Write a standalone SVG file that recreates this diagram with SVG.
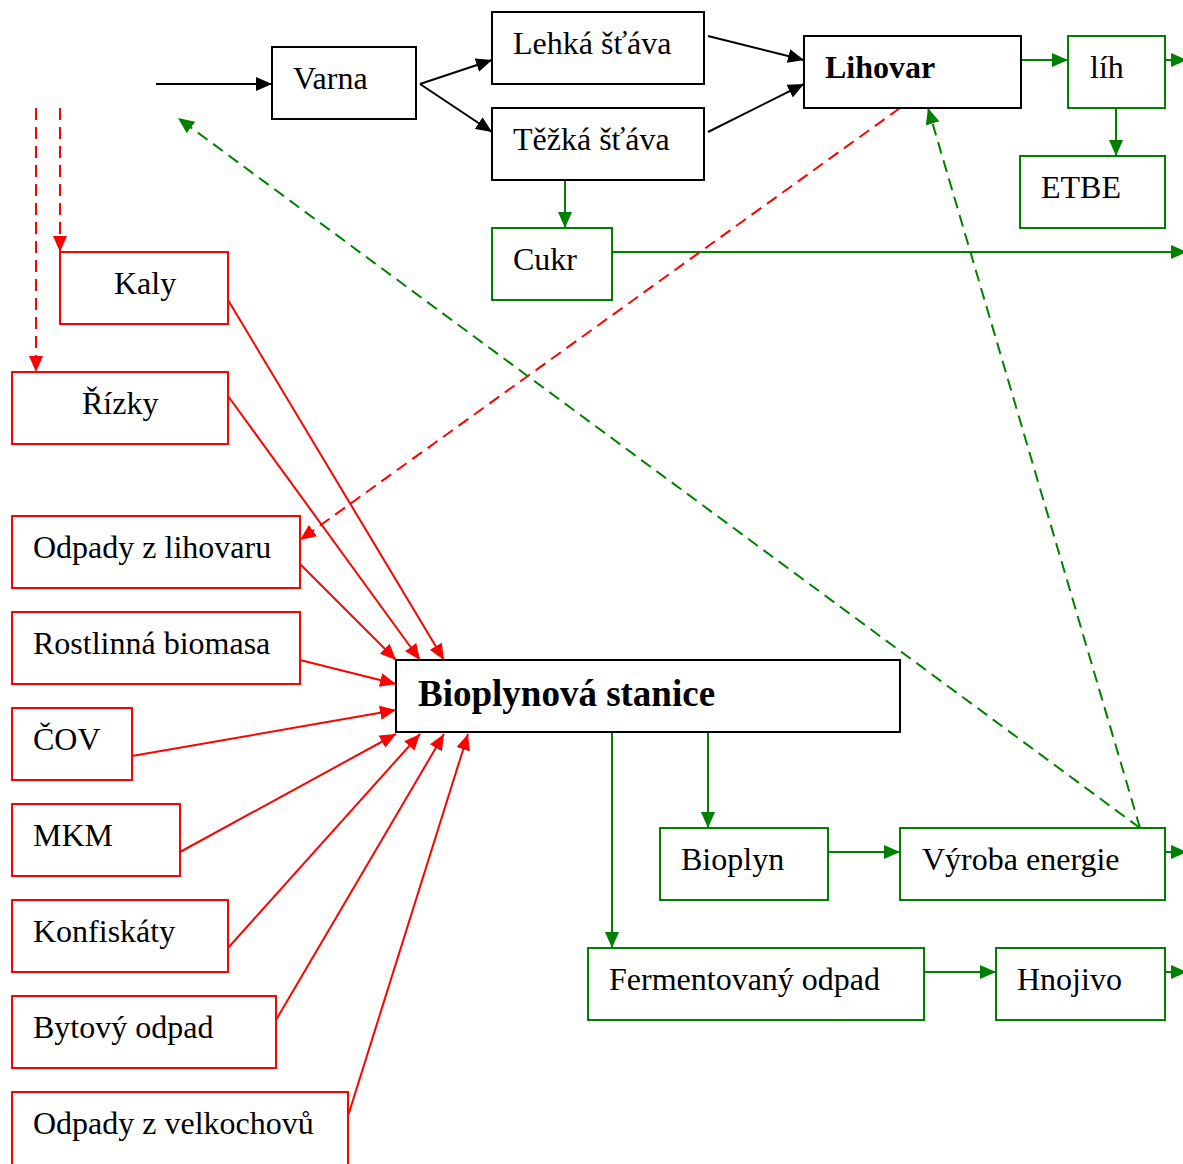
<svg xmlns="http://www.w3.org/2000/svg" width="1183" height="1164" viewBox="0 0 1183 1164">
<style>
rect{fill:#fff;stroke-width:2}
.k{stroke:#000}
.g{stroke:#008000}
.r{stroke:#f00}
text{font-family:"Liberation Serif","Times New Roman",serif;font-size:32px;fill:#000}
.b{font-weight:bold}
.big{font-size:37px}
line{stroke-width:2;fill:none}
.lk{stroke:#000;marker-end:url(#ak)}
.lg{stroke:#008000;marker-end:url(#ag)}
.lr{stroke:#f00;marker-end:url(#ar)}
.d{stroke-dasharray:12 7}
</style>
<defs>
<marker id="ak" viewBox="0 0 16 14" refX="16" refY="7" markerWidth="16" markerHeight="14" markerUnits="userSpaceOnUse" orient="auto"><path d="M0 0L16 7L0 14z" fill="#000"/></marker>
<marker id="ag" viewBox="0 0 16 14" refX="16" refY="7" markerWidth="16" markerHeight="14" markerUnits="userSpaceOnUse" orient="auto"><path d="M0 0L16 7L0 14z" fill="#008000"/></marker>
<marker id="ar" viewBox="0 0 16 14" refX="16" refY="7" markerWidth="16" markerHeight="14" markerUnits="userSpaceOnUse" orient="auto"><path d="M0 0L16 7L0 14z" fill="#f00"/></marker>
</defs>
<rect width="1183" height="1164" fill="#fff" stroke="none"/>
<g id="connectors">
<line class="lk" x1="156" y1="84" x2="272" y2="84"/>
<line class="lk" x1="420" y1="84" x2="492" y2="60"/>
<line class="lk" x1="420" y1="84" x2="492" y2="132"/>
<line class="lk" x1="708" y1="36" x2="804" y2="60"/>
<line class="lk" x1="708" y1="132" x2="804" y2="84"/>
<line class="lg" x1="1021" y1="60" x2="1068" y2="60"/>
<line class="lg" x1="1165" y1="60" x2="1187" y2="60"/>
<line class="lg" x1="1116" y1="108" x2="1116" y2="156"/>
<line class="lg" x1="565" y1="180" x2="565" y2="228"/>
<line class="lg" x1="612" y1="252" x2="1187" y2="252"/>
<line class="lr d" x1="36" y1="108" x2="36" y2="372"/>
<line class="lr d" x1="60" y1="108" x2="60" y2="252"/>
<line class="lr d" x1="900" y1="108" x2="300" y2="540"/>
<line class="lg d" x1="1140" y1="828" x2="178" y2="118"/>
<line class="lg d" x1="1140" y1="828" x2="928" y2="108"/>
<line class="lr" x1="228" y1="300" x2="444" y2="660"/>
<line class="lr" x1="228" y1="396" x2="420" y2="660"/>
<line class="lr" x1="300" y1="564" x2="396" y2="660"/>
<line class="lr" x1="300" y1="660" x2="396" y2="684"/>
<line class="lr" x1="132" y1="756" x2="396" y2="710"/>
<line class="lr" x1="180" y1="852" x2="396" y2="734"/>
<line class="lr" x1="228" y1="948" x2="420" y2="734"/>
<line class="lr" x1="276" y1="1020" x2="444" y2="734"/>
<line class="lr" x1="348" y1="1116" x2="468" y2="734"/>
<line class="lg" x1="708" y1="732" x2="708" y2="828"/>
<line class="lg" x1="612" y1="732" x2="612" y2="948"/>
<line class="lg" x1="828" y1="852" x2="900" y2="852"/>
<line class="lg" x1="1165" y1="852" x2="1187" y2="852"/>
<line class="lg" x1="924" y1="972" x2="996" y2="972"/>
<line class="lg" x1="1165" y1="972" x2="1187" y2="972"/>
</g>
<g id="varna"><rect class="k" x="272" y="47" width="144" height="72"/><text x="293" y="89">Varna</text></g>
<g id="lehka"><rect class="k" x="492" y="12" width="212" height="72"/><text x="513" y="54">Lehká šťáva</text></g>
<g id="tezka"><rect class="k" x="492" y="108" width="212" height="72"/><text x="513" y="150">Těžká šťáva</text></g>
<g id="lihovar"><rect class="k" x="804" y="36" width="217" height="72"/><text class="b" x="825" y="78">Lihovar</text></g>
<g id="lih"><rect class="g" x="1068" y="36" width="97" height="72"/><text x="1090" y="78">líh</text></g>
<g id="etbe"><rect class="g" x="1020" y="156" width="145" height="72"/><text x="1041" y="198">ETBE</text></g>
<g id="cukr"><rect class="g" x="492" y="228" width="120" height="72"/><text x="513" y="270">Cukr</text></g>
<g id="kaly"><rect class="r" x="60" y="252" width="168" height="72"/><text x="114" y="294">Kaly</text></g>
<g id="rizky"><rect class="r" x="12" y="372" width="216" height="72"/><text x="82" y="414">Řízky</text></g>
<g id="odpady-lihovar"><rect class="r" x="12" y="516" width="288" height="72"/><text x="33" y="558">Odpady z lihovaru</text></g>
<g id="rostlinna"><rect class="r" x="12" y="612" width="288" height="72"/><text x="33" y="654">Rostlinná biomasa</text></g>
<g id="cov"><rect class="r" x="12" y="708" width="120" height="72"/><text x="33" y="750">ČOV</text></g>
<g id="mkm"><rect class="r" x="12" y="804" width="168" height="72"/><text x="33" y="846">MKM</text></g>
<g id="konfiskaty"><rect class="r" x="12" y="900" width="216" height="72"/><text x="33" y="942">Konfiskáty</text></g>
<g id="bytovy"><rect class="r" x="12" y="996" width="264" height="72"/><text x="33" y="1038">Bytový odpad</text></g>
<g id="velkochovy"><rect class="r" x="12" y="1092" width="336" height="80"/><text x="33" y="1134">Odpady z velkochovů</text></g>
<g id="bioplynova"><rect class="k" x="396" y="660" width="504" height="72"/><text class="b big" x="418" y="706">Bioplynová stanice</text></g>
<g id="bioplyn"><rect class="g" x="660" y="828" width="168" height="72"/><text x="681" y="870">Bioplyn</text></g>
<g id="vyroba"><rect class="g" x="900" y="828" width="265" height="72"/><text x="922" y="870">Výroba energie</text></g>
<g id="fermentovany"><rect class="g" x="588" y="948" width="336" height="72"/><text x="609" y="990">Fermentovaný odpad</text></g>
<g id="hnojivo"><rect class="g" x="996" y="948" width="169" height="72"/><text x="1017" y="990">Hnojivo</text></g>
</svg>
